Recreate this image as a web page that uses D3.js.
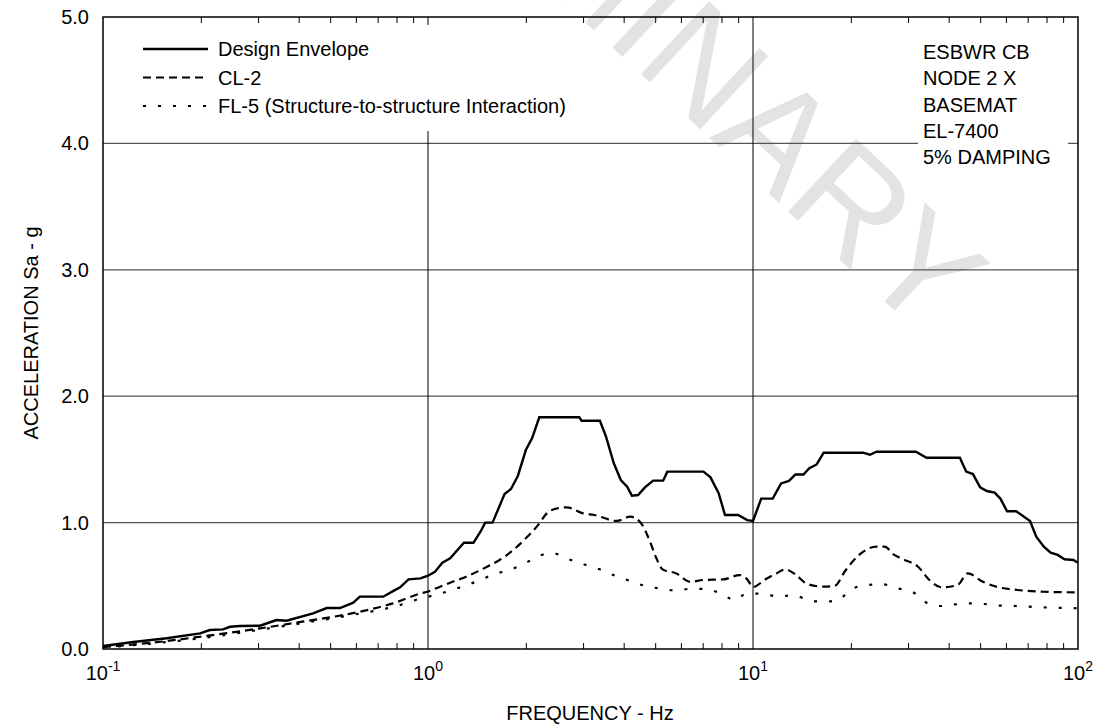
<!DOCTYPE html>
<html><head><meta charset="utf-8">
<script src="https://cdn.jsdelivr.net/npm/d3@7"></script>
<style>
body{margin:0;background:#fff;}
text{font-family:Arial,"Liberation Sans",sans-serif;fill:#000;}
</style></head>
<body><svg id="c" width="1101" height="725"></svg>
<script>
const yTicks = [0, 1, 2, 3, 4, 5];
const xDecades = [0.1, 1, 10, 100];
const xTickExponents = ["-1", "0", "1", "2"];
const legendLabels = ["Design Envelope", "CL-2", "FL-5 (Structure-to-structure Interaction)"];
const noteLines = ["ESBWR CB", "NODE 2 X", "BASEMAT", "EL-7400", "5% DAMPING"];

const designEnvelope = [[0.1,0.024],[0.124,0.055],[0.157,0.085],[0.199,0.124],[0.213,0.15],[0.234,0.155],[0.246,0.176],[0.264,0.182],[0.304,0.184],[0.342,0.229],[0.367,0.224],[0.443,0.282],[0.488,0.324],[0.536,0.324],[0.589,0.366],[0.617,0.414],[0.728,0.414],[0.783,0.46],[0.821,0.488],[0.871,0.551],[0.948,0.559],[1.0,0.58],[1.05,0.61],[1.107,0.683],[1.17,0.717],[1.29,0.84],[1.38,0.84],[1.45,0.928],[1.50,1.0],[1.58,1.0],[1.72,1.226],[1.80,1.266],[1.89,1.369],[2.0,1.574],[2.09,1.667],[2.20,1.833],[2.92,1.833],[2.97,1.806],[3.38,1.806],[3.53,1.68],[3.73,1.469],[3.92,1.337],[4.10,1.284],[4.24,1.213],[4.43,1.218],[4.65,1.279],[4.93,1.332],[5.29,1.332],[5.45,1.403],[7.04,1.403],[7.4,1.358],[7.84,1.232],[8.2,1.06],[9.0,1.06],[9.6,1.02],[10.0,1.013],[10.6,1.19],[11.5,1.19],[12.2,1.31],[12.9,1.33],[13.5,1.38],[14.3,1.38],[14.9,1.43],[15.7,1.46],[16.5,1.553],[21.8,1.553],[22.9,1.537],[24.0,1.561],[31.7,1.561],[34.2,1.513],[43.3,1.513],[45.3,1.403],[47.5,1.384],[50.0,1.279],[52.4,1.25],[55.4,1.237],[57.7,1.19],[60.5,1.09],[64.5,1.09],[71.2,1.013],[74.4,0.889],[78.5,0.81],[82.4,0.762],[86.6,0.744],[90.9,0.71],[96.8,0.704],[100,0.683]];

const cl2 = [[0.1,0.015],[0.157,0.063],[0.199,0.097],[0.304,0.163],[0.41,0.216],[0.617,0.295],[0.78,0.361],[0.95,0.44],[1.0,0.455],[1.09,0.493],[1.19,0.532],[1.31,0.572],[1.52,0.651],[1.66,0.704],[1.83,0.783],[2.0,0.876],[2.18,0.98],[2.32,1.073],[2.5,1.113],[2.67,1.121],[3.0,1.073],[3.25,1.06],[3.81,1.013],[4.19,1.047],[4.51,1.0],[4.80,0.862],[5.02,0.73],[5.27,0.63],[5.81,0.598],[6.41,0.532],[7.04,0.546],[8.11,0.551],[9.1,0.585],[9.6,0.551],[10.0,0.49],[10.9,0.55],[11.8,0.598],[12.6,0.63],[13.5,0.59],[14.7,0.514],[16.5,0.493],[17.8,0.498],[19.3,0.625],[21.2,0.744],[24.0,0.81],[25.4,0.81],[27.2,0.744],[29.0,0.71],[32.2,0.651],[34.9,0.546],[38.1,0.488],[42.6,0.506],[45.8,0.598],[51.0,0.532],[57.0,0.488],[65.0,0.467],[78.5,0.453],[100,0.448]];

const fl5 = [[0.1,0.012],[0.2,0.085],[0.3,0.15],[0.4,0.2],[0.6,0.275],[0.8,0.34],[0.95,0.40],[1.05,0.427],[1.29,0.498],[1.45,0.546],[1.60,0.593],[1.78,0.625],[1.99,0.678],[2.20,0.738],[2.42,0.757],[2.70,0.712],[3.06,0.665],[3.38,0.63],[3.76,0.58],[4.19,0.538],[4.63,0.501],[5.29,0.475],[5.84,0.461],[6.33,0.475],[7.04,0.475],[7.95,0.44],[8.77,0.388],[9.6,0.44],[10.8,0.435],[12.0,0.414],[13.3,0.427],[14.7,0.388],[16.5,0.374],[18.3,0.388],[20.0,0.472],[22.5,0.506],[25.0,0.512],[27.8,0.48],[30.9,0.453],[34.2,0.366],[37.8,0.34],[41.9,0.353],[46.4,0.361],[51.4,0.356],[57.5,0.343],[64.4,0.34],[77.2,0.33],[100,0.322]];

const series = [
  {name: legendLabels[0], data: designEnvelope, width: 2.4, dash: null, curve: d3.curveLinear},
  {name: legendLabels[1], data: cl2, width: 2.2, dash: "8,5", curve: d3.curveMonotoneX},
  {name: legendLabels[2], data: fl5, width: 2.2, dash: "3,12", curve: d3.curveMonotoneX}
];

const svg = d3.select("#c");
const L = 103, R = 1078, T = 17, B = 649;
const x = d3.scaleLog().domain([0.1, 100]).range([L, R]);
const y = d3.scaleLinear().domain([0, 5]).range([B, T]);

// watermark
svg.append("text").attr("transform", "translate(925,339) rotate(43)")
  .attr("text-anchor", "end").style("font-size", "145px").style("fill", "#e3e3e3")
  .text("PRELIMINARY");

// gridlines
svg.append("g").selectAll("line").data(yTicks.filter(d => d > 0 && d < 5)).join("line")
  .attr("x1", L).attr("x2", R).attr("y1", d => y(d)).attr("y2", d => y(d))
  .attr("stroke", "#555").attr("stroke-width", 1.2);
svg.append("g").selectAll("line").data(xDecades.slice(1, 3)).join("line")
  .attr("x1", d => x(d)).attr("x2", d => x(d)).attr("y1", T).attr("y2", B)
  .attr("stroke", "#000").attr("stroke-width", 1);

// minor ticks
const minor = x.ticks().filter(d => !xDecades.some(m => Math.abs(m - d) < 1e-9));
const bAxis = svg.append("g").attr("transform", `translate(0,${B})`)
  .call(d3.axisBottom(x).tickValues(minor).tickSizeInner(-6).tickSizeOuter(0).tickFormat(""));
const tAxis = svg.append("g").attr("transform", `translate(0,${T})`)
  .call(d3.axisTop(x).tickValues(minor).tickSizeInner(-6).tickSizeOuter(0).tickFormat(""));
[bAxis, tAxis].forEach(a => { a.select(".domain").remove(); a.selectAll("line").attr("stroke", "#000"); });

// legend & note backgrounds
svg.append("rect").attr("x", 118).attr("y", 25).attr("width", 400).attr("height", 106).attr("fill", "#fff");
svg.append("rect").attr("x", 918).attr("y", 27).attr("width", 150).attr("height", 142).attr("fill", "#fff");

// curves
series.forEach(s => {
  svg.append("path").datum(s.data)
    .attr("d", d3.line().x(d => x(d[0])).y(d => y(d[1])).curve(s.curve))
    .attr("fill", "none").attr("stroke", "#000").attr("stroke-width", s.width)
    .attr("stroke-dasharray", s.dash);
});

// frame
svg.append("rect").attr("x", L).attr("y", T).attr("width", R - L).attr("height", B - T)
  .attr("fill", "none").attr("stroke", "#000").attr("stroke-width", 1.5);

// y axis labels
const yAxis = svg.append("g").attr("transform", `translate(${L},0)`)
  .call(d3.axisLeft(y).tickValues(yTicks).tickSize(0).tickPadding(14).tickFormat(d3.format(".1f")));
yAxis.select(".domain").remove();
yAxis.selectAll("text").style("font-size", "20px").style("font-family", "Arial, 'Liberation Sans', sans-serif");

// x labels
const xl = svg.append("g").selectAll("text").data(xDecades).join("text")
  .attr("x", d => x(d)).attr("y", 680).attr("text-anchor", "middle").style("font-size", "20px");
xl.append("tspan").text("10");
xl.append("tspan").attr("dy", -9).style("font-size", "14px").text((d, i) => xTickExponents[i]);

svg.append("text").attr("x", 590).attr("y", 720).attr("text-anchor", "middle").style("font-size", "20px").text("FREQUENCY - Hz");
svg.append("text").attr("transform", "translate(38,333) rotate(-90)").attr("text-anchor", "middle").style("font-size", "20px").text("ACCELERATION Sa - g");

// legend
const lg = svg.append("g").selectAll("g").data(series).join("g")
  .attr("transform", (d, i) => `translate(0,${49 + i * 28.5})`);
lg.append("line").attr("x1", 143).attr("x2", 208).attr("y1", 0).attr("y2", 0)
  .attr("stroke", "#000").attr("stroke-width", d => d.width).attr("stroke-dasharray", d => d.dash);
lg.append("text").attr("x", 218).attr("y", 7).style("font-size", "20px").text(d => d.name);

// note
svg.append("g").selectAll("text").data(noteLines).join("text")
  .attr("x", 923).attr("y", (d, i) => 59 + i * 26.3).style("font-size", "20px").text(d => d);
</script></body></html>
